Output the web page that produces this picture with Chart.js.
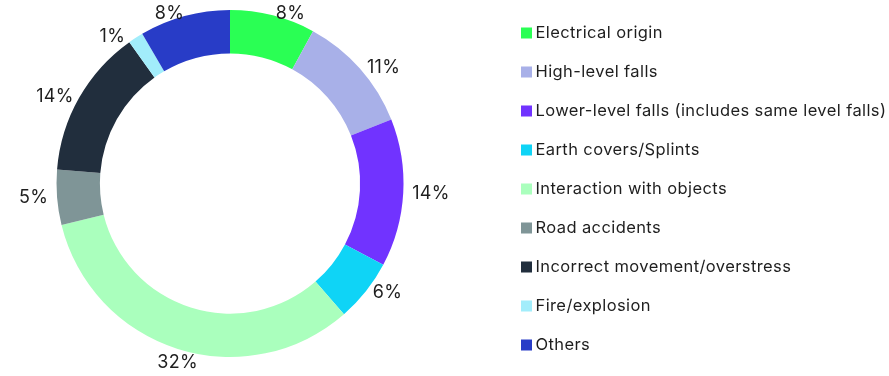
<!DOCTYPE html>
<html>
<head>
<meta charset="utf-8">
<script src="https://cdn.jsdelivr.net/npm/chart.js@4"></script>
<style>
  html, body { margin: 0; padding: 0; background: #fff; }
  #wrap { width: 889px; height: 376px; }
</style>
</head>
<body>
<div id="wrap"><canvas id="AccidentGraph"></canvas></div>
<script>
let Causes = ["Electrical origin", "High-level falls", "Lower-level falls (includes same level falls)",
    "Earth covers/Splints", "Interaction with objects", "Road accidents",
    "Incorrect movement/overstress", "Fire/explosion", "Others"];
let Shares = [7.9, 11.0, 13.7, 5.8, 32.4, 5.1, 13.8, 1.4, 8.4];
let ShareLabels = ["8%", "11%", "14%", "6%", "32%", "5%", "14%", "1%", "8%"];

const sliceColors = ["#2aff54", "#a8b0e8", "#7133ff", "#0fd4f6", "#aaffbd",
    "#7f9597", "#212e3d", "#a2edfb", "#283cc7"];
const textColor = "#1e1e1e";
const fontFamily = "Inter, 'Noto Sans', sans-serif";

// percentages outside the ring
const outsideLabels = {
    id: "outsideLabels",
    afterDatasetsDraw(chart) {
        const ctx = chart.ctx;
        const arcs = chart.getDatasetMeta(0).data;
        ctx.save();
        ctx.font = "18px " + fontFamily;
        ctx.letterSpacing = "0.3px";
        ctx.fillStyle = textColor;
        ctx.textAlign = "center";
        ctx.textBaseline = "middle";
        arcs.forEach((arc, i) => {
            const p = arc.getProps(["x", "y", "startAngle", "endAngle", "outerRadius"], true);
            const R = p.outerRadius;
            const mid = (p.startAngle + p.endAngle) / 2;
            const dx = Math.cos(mid), dy = Math.sin(mid);
            const w = ctx.measureText(ShareLabels[i]).width;
            const h = 13;
            const sideways = Math.abs(dx) >= 0.35;
            let x = sideways ? p.x + dx * (R + 9 + w / 2) : p.x + dx * R;
            let y = p.y + dy * (R + 2);
            if (dy < -0.9) {
                // top labels: keep inside the canvas, slide along the ring
                y = 14;
                const rr = R + 6.5;
                x = p.x + Math.sign(dx) * Math.sqrt(rr * rr - (y - p.y) * (y - p.y));
            } else {
                // push the label off the ring if its box touches it
                for (let k = 0; k < 60; k++) {
                    const nx = Math.min(Math.max(p.x, x - w / 2), x + w / 2);
                    const ny = Math.min(Math.max(p.y, y - h / 2), y + h / 2);
                    if (Math.hypot(nx - p.x, ny - p.y) >= R + 2) break;
                    if (sideways) x += Math.sign(dx) * 0.5;
                    else y += Math.sign(dy) * 0.5;
                }
            }
            ctx.fillText(ShareLabels[i], x, y);
        });
        ctx.restore();
    }
};

// legend column on the right
const sideLegend = {
    id: "sideLegend",
    afterDraw(chart) {
        const ctx = chart.ctx;
        ctx.save();
        ctx.font = "16.5px " + fontFamily;
        ctx.letterSpacing = "0.4px";
        ctx.textBaseline = "middle";
        ctx.textAlign = "left";
        Causes.forEach((c, i) => {
            const y = 33 + i * 39;
            ctx.fillStyle = sliceColors[i];
            ctx.fillRect(521, y - 5.5, 11, 11);
            ctx.fillStyle = textColor;
            ctx.fillText(c, 535.5, y + 0.5);
        });
        ctx.restore();
    }
};

new Chart("AccidentGraph", {
    type: "doughnut",
    data: {
        labels: Causes,
        datasets: [{
            data: Shares,
            backgroundColor: sliceColors,
            borderWidth: 0
        }]
    },
    options: {
        responsive: true,
        maintainAspectRatio: false,
        animation: false,
        cutout: "75%",
        layout: {padding: {left: 56.5, right: 485.5, top: 10, bottom: 19}},
        plugins: {
            legend: {display: false},
            tooltip: {enabled: false}
        }
    },
    plugins: [outsideLabels, sideLegend]
});
</script>
</body>
</html>
